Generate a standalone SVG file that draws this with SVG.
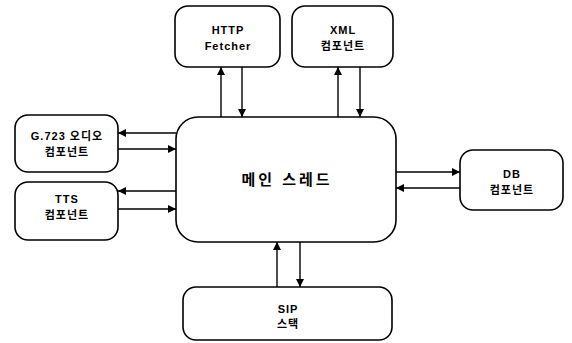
<svg xmlns="http://www.w3.org/2000/svg" width="572" height="343" viewBox="0 0 572 343">
<defs>
<marker id="ah" viewBox="0 0 10 10" refX="10" refY="5" markerWidth="8" markerHeight="8" markerUnits="userSpaceOnUse" orient="auto"><path d="M0,0 L10,5 L0,10 z" fill="#000"/></marker>
<style>
.box{fill:#fff;stroke:#000;stroke-width:1.6}
.t{font-family:"Liberation Sans","Noto Sans CJK KR",sans-serif;font-size:11px;font-weight:bold;text-anchor:middle;fill:#000;letter-spacing:1px}
.tm{font-size:15px;letter-spacing:3px}
.c{stroke:#000;stroke-width:1.4;fill:none;marker-end:url(#ah)}
</style>
</defs>
<rect width="572" height="343" fill="#fff"/>
<g id="connectors">
<line class="c" x1="221" y1="117" x2="221" y2="67"/>
<line class="c" x1="242" y1="67" x2="242" y2="117"/>
<line class="c" x1="338" y1="117" x2="338" y2="67"/>
<line class="c" x1="360" y1="67" x2="360" y2="117"/>
<line class="c" x1="176" y1="133" x2="118" y2="133"/>
<line class="c" x1="118" y1="149" x2="176" y2="149"/>
<line class="c" x1="176" y1="191" x2="118" y2="191"/>
<line class="c" x1="118" y1="209" x2="176" y2="209"/>
<line class="c" x1="396" y1="172" x2="460" y2="172"/>
<line class="c" x1="460" y1="188" x2="396" y2="188"/>
<line class="c" x1="277" y1="287" x2="277" y2="242"/>
<line class="c" x1="300" y1="242" x2="300" y2="287"/>
</g>
<g id="main"><rect class="box" x="176" y="117" width="220" height="125" rx="22"/><text class="t tm" x="287" y="185">메인 스레드</text></g>
<g id="http"><rect class="box" x="175" y="6" width="105" height="61" rx="13"/><text class="t" x="228" y="34">HTTP</text><text class="t" x="228" y="50">Fetcher</text></g>
<g id="xml"><rect class="box" x="292" y="6" width="101" height="61" rx="13"/><text class="t" x="343" y="34">XML</text><text class="t" x="343" y="50">컴포넌트</text></g>
<g id="g723"><rect class="box" x="15" y="115" width="103" height="57" rx="13"/><text class="t" x="67" y="140">G.723 오디오</text><text class="t" x="67" y="156">컴포넌트</text></g>
<g id="tts"><rect class="box" x="15" y="182" width="103" height="58" rx="13"/><text class="t" x="67" y="203">TTS</text><text class="t" x="67" y="219">컴포넌트</text></g>
<g id="db"><rect class="box" x="460" y="150" width="103" height="60" rx="13"/><text class="t" x="512" y="178">DB</text><text class="t" x="512" y="194">컴포넌트</text></g>
<g id="sip"><rect class="box" x="183" y="287" width="209" height="53" rx="13"/><text class="t" x="288" y="313">SIP</text><text class="t" x="288" y="328">스택</text></g>
</svg>
